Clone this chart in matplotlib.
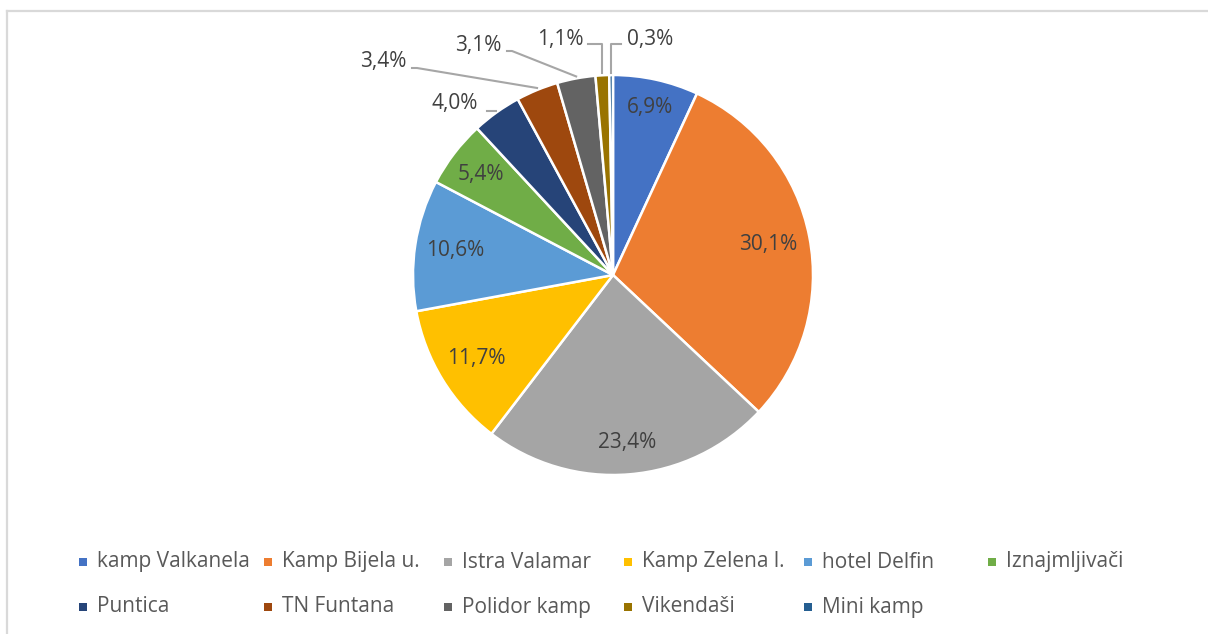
import numpy as np
import matplotlib.pyplot as plt
from matplotlib.patches import Rectangle
from matplotlib.lines import Line2D

plt.rcParams['font.family'] = ['Open Sans', 'DejaVu Sans']

# data
names = ['kamp Valkanela', 'Kamp Bijela u.', 'Istra Valamar', 'Kamp Zelena l.',
         'hotel Delfin', 'Iznajmljivači', 'Puntica', 'TN Funtana',
         'Polidor kamp', 'Vikendaši', 'Mini kamp']
shares = [6.9, 30.1, 23.4, 11.7, 10.6, 5.4, 4.0, 3.4, 3.1, 1.1, 0.3]
labels = ['6,9%', '30,1%', '23,4%', '11,7%', '10,6%', '5,4%',
          '4,0%', '3,4%', '3,1%', '1,1%', '0,3%']
colors = ['#4472C4', '#ED7D31', '#A5A5A5', '#FFC000', '#5B9BD5', '#70AD47',
          '#264478', '#9E480E', '#636363', '#997300', '#255E91']

W, H = 1208, 634
R = 200.0          # pie radius in px
cx, cy = 613, 275  # pie centre in px (from top)

fig = plt.figure(figsize=(W / 100, H / 100), dpi=100)
ax = fig.add_axes([0, 0, 1, 1])

wedges, _ = ax.pie(shares, colors=colors, startangle=90, counterclock=False,
                   radius=1, wedgeprops=dict(edgecolor='white', linewidth=1.8))

txt = '#404040'
fs = 15
# labels inside the larger slices
dist = [0.86, 0.79, 0.84, 0.80, 0.80, 0.83]
for i in range(6):
    w = wedges[i]
    ang = np.deg2rad((w.theta1 + w.theta2) / 2)
    ax.text(dist[i] * np.cos(ang), dist[i] * np.sin(ang), labels[i], ha='center',
            va='center', fontsize=fs, color=txt)

# outside labels with leader lines (offsets in radius units)
outside = {
    6: (-0.79, 0.86),
    7: (-1.15, 1.065),
    8: (-0.675, 1.15),
    9: (-0.265, 1.18),
    10: (0.185, 1.18),
}
lc = '#A6A6A6'
for i, (tx, ty) in outside.items():
    w = wedges[i]
    ang = np.deg2rad((w.theta1 + w.theta2) / 2)
    ex, ey = np.cos(ang), np.sin(ang)
    ax.text(tx, ty, labels[i], ha='center', va='center', fontsize=fs, color=txt)
    if i == 6:
        ax.plot([tx + 0.16, ex], [ey + 0.005, ey + 0.005], color=lc, lw=1.5)
    elif i in (7, 8):
        ax.plot([tx + 0.145, tx + 0.17, ex], [ty - 0.03, ty - 0.03, ey + 0.01],
                color=lc, lw=1.5)
    elif i == 9:
        ax.plot([tx + 0.14, ex, ex], [ty - 0.025, ty - 0.025, ey + 0.01],
                color=lc, lw=1.5)
    else:
        ax.plot([tx - 0.145, ex, ex], [ty - 0.025, ty - 0.025, ey + 0.01],
                color=lc, lw=1.5)

ax.set_xlim(-cx / R, (W - cx) / R)
ax.set_ylim(-(H - cy) / R, cy / R)
ax.set_aspect('equal')
ax.axis('off')

# legend drawn manually, two rows
col_x = [83, 268, 448, 628, 808, 992]
row_y = [562, 607]
for k, (name, c) in enumerate(zip(names, colors)):
    r, j = divmod(k, 6)
    x, y = col_x[j], row_y[r]
    fig.patches.append(Rectangle(((x - 4) / W, 1 - (y + 4) / H), 8 / W, 8 / H,
                                 transform=fig.transFigure, facecolor=c,
                                 edgecolor='none'))
    fig.text((x + 14) / W, 1 - y / H, name, ha='left', va='center',
             fontsize=fs, color='#595959')

# chart frame (left and top edges visible)
fig.add_artist(Line2D([7 / W, 7 / W], [0, 1 - 11 / H], transform=fig.transFigure,
                      color='#D9D9D9', lw=1.6))
fig.add_artist(Line2D([7 / W, 1], [1 - 11 / H, 1 - 11 / H], transform=fig.transFigure,
                      color='#D9D9D9', lw=1.6))

fig.savefig('out.png', dpi=100, facecolor='white')
